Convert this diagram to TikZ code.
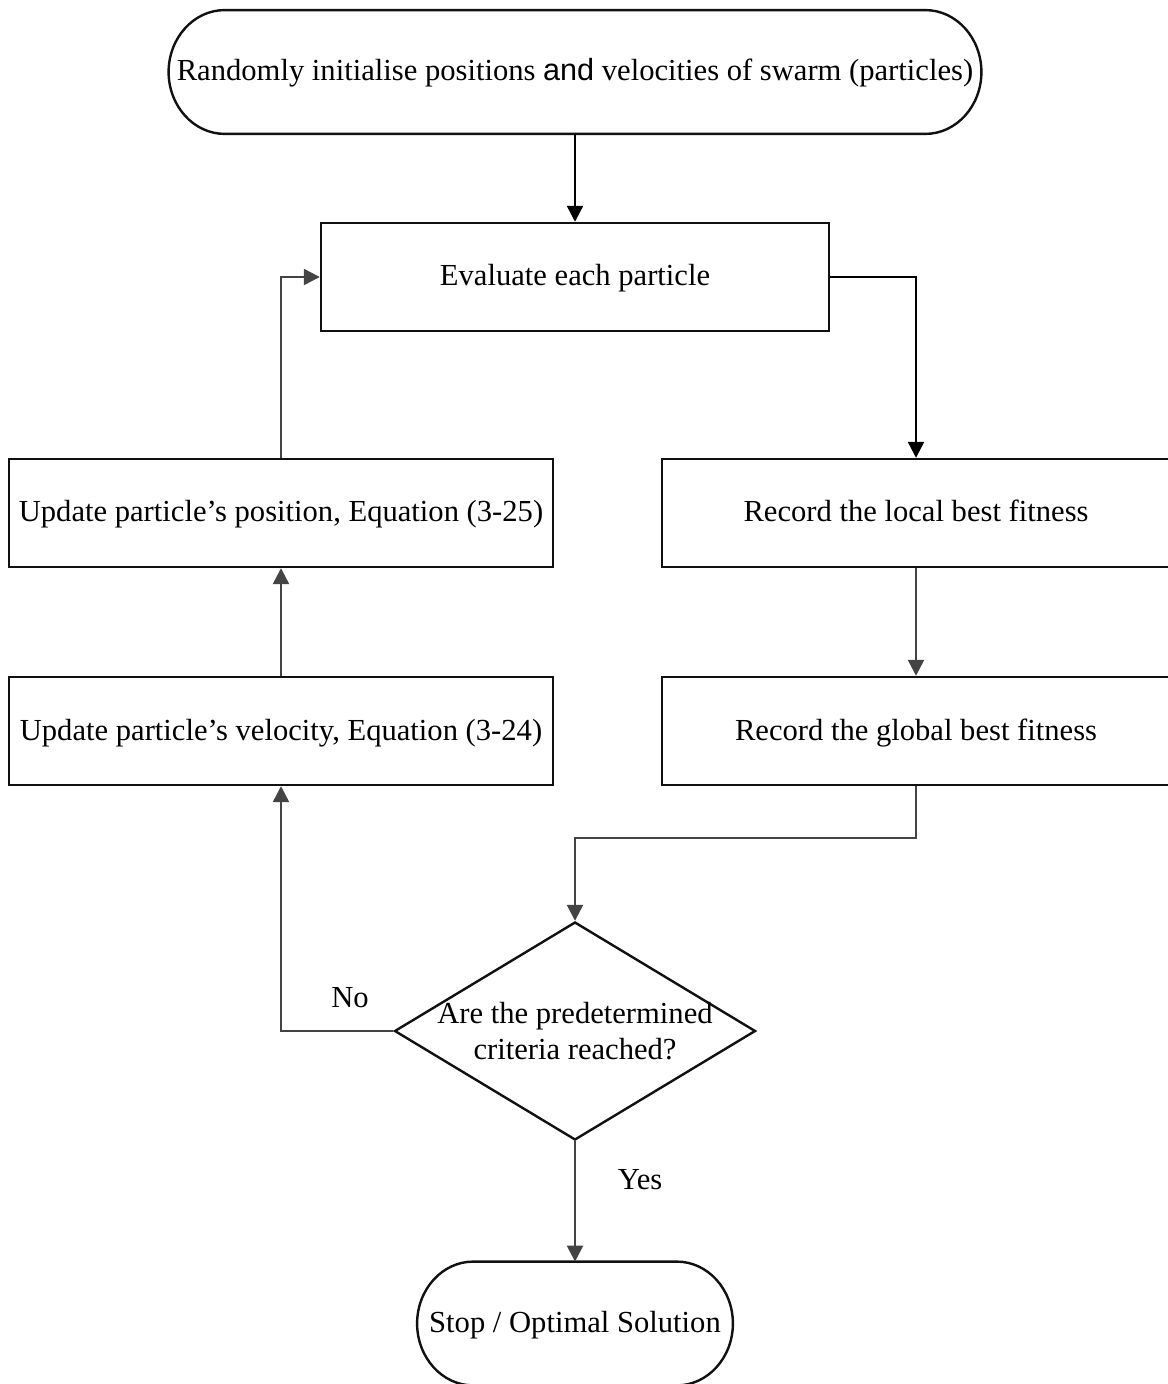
\documentclass[tikz,border=0pt]{standalone}
\usepackage{fontspec}
\setmainfont{Liberation Serif}
\setsansfont{Liberation Sans}
\usetikzlibrary{arrows.meta,shapes.geometric,calc}

\definecolor{edgegray}{HTML}{444444}
\definecolor{boxline}{HTML}{111111}

\tikzset{
  every node/.style={font=\fontsize{15.3}{18.4}\selectfont},
  oneline/.style={text height=10.6pt, text depth=1.6pt},
  procbox/.style={draw=boxline, line width=1.2pt, rectangle, inner sep=0pt, align=center, oneline},
  termbox/.style={rectangle, inner sep=0pt, minimum height=61.5pt, align=center, oneline},
  decbox/.style={draw=boxline, line width=1.2pt, diamond, inner sep=0pt,
                 minimum width=180.5pt, minimum height=109pt},
  termline/.style={draw=boxline, line width=1.2pt},
  darkflow/.style={draw=black, line width=1.2pt, -{Triangle[length=8pt,width=8pt]}},
  grayflow/.style={draw=edgegray, line width=1.2pt, -{Triangle[length=8pt,width=8pt]}},
}

% outline of a terminator: straight top and bottom, half-ellipse ends
\newcommand{\termoutline}[2]{%
  \draw[termline]
    ([xshift=#2]#1.north west) -- ([xshift=-#2]#1.north east)
    .. controls ([xshift=-0.448*#2]#1.north east) and ([yshift=17pt]#1.east) .. (#1.east)
    .. controls ([yshift=-17pt]#1.east) and ([xshift=-0.448*#2]#1.south east) .. ([xshift=-#2]#1.south east)
    -- ([xshift=#2]#1.south west)
    .. controls ([xshift=0.448*#2]#1.south west) and ([yshift=-17pt]#1.west) .. (#1.west)
    .. controls ([yshift=17pt]#1.west) and ([xshift=0.448*#2]#1.north west) .. ([xshift=#2]#1.north west)
    -- cycle;}

\begin{document}
\begin{tikzpicture}[x=0.5pt,y=-0.5pt]
  \useasboundingbox (0,0) rectangle (1167,1384);

  % terminators
  \node[termbox, minimum width=406pt] (start) at (575,72)
    {Randomly initialise positions {\sffamily and} velocities of swarm (particles)};
  \termoutline{start}{28pt}
  \node[termbox, minimum width=157.5pt] (stop) at (575,1323.5) {Stop / Optimal Solution};
  \termoutline{stop}{28pt}

  % process steps
  \node[procbox, minimum width=254pt, minimum height=54pt] (eval) at (575,277) {Evaluate each particle};
  \node[procbox, minimum width=272pt, minimum height=54pt] (pos) at (281,513)
    {Update particle’s position, Equation (3-25)};
  \node[procbox, minimum width=272pt, minimum height=54pt] (vel) at (281,731)
    {Update particle’s velocity, Equation (3-24)};
  \node[procbox, minimum width=254pt, minimum height=54pt] (local) at (916,513)
    {Record the local best fitness};
  \node[procbox, minimum width=254pt, minimum height=54pt] (global) at (916,731)
    {Record the global best fitness};

  % decision
  \node[decbox] (dec) at (575,1031) {};
  \node[align=center, inner sep=0pt] (dectext) at (575,1031)
    {Are the predetermined\\criteria reached?};

  % connectors
  \coordinate (join) at (575,838);
  \draw[darkflow] (start.south) -- (eval.north);
  \draw[darkflow] (eval.east) -| (local.north);
  \draw[grayflow] (local.south) -- (global.north);
  \draw[grayflow] (global.south) |- (join) -- (dec.north);
  \draw[grayflow] (dec.west) -| (vel.south);
  \draw[grayflow] (vel.north) -- (pos.south);
  \draw[grayflow] (pos.north) |- (eval.west);
  \draw[grayflow] (dec.south) -- (stop.north);

  % branch labels
  \node (no) at (350,998) {No};
  \node (yes) at (640,1180) {Yes};
\end{tikzpicture}
\end{document}
